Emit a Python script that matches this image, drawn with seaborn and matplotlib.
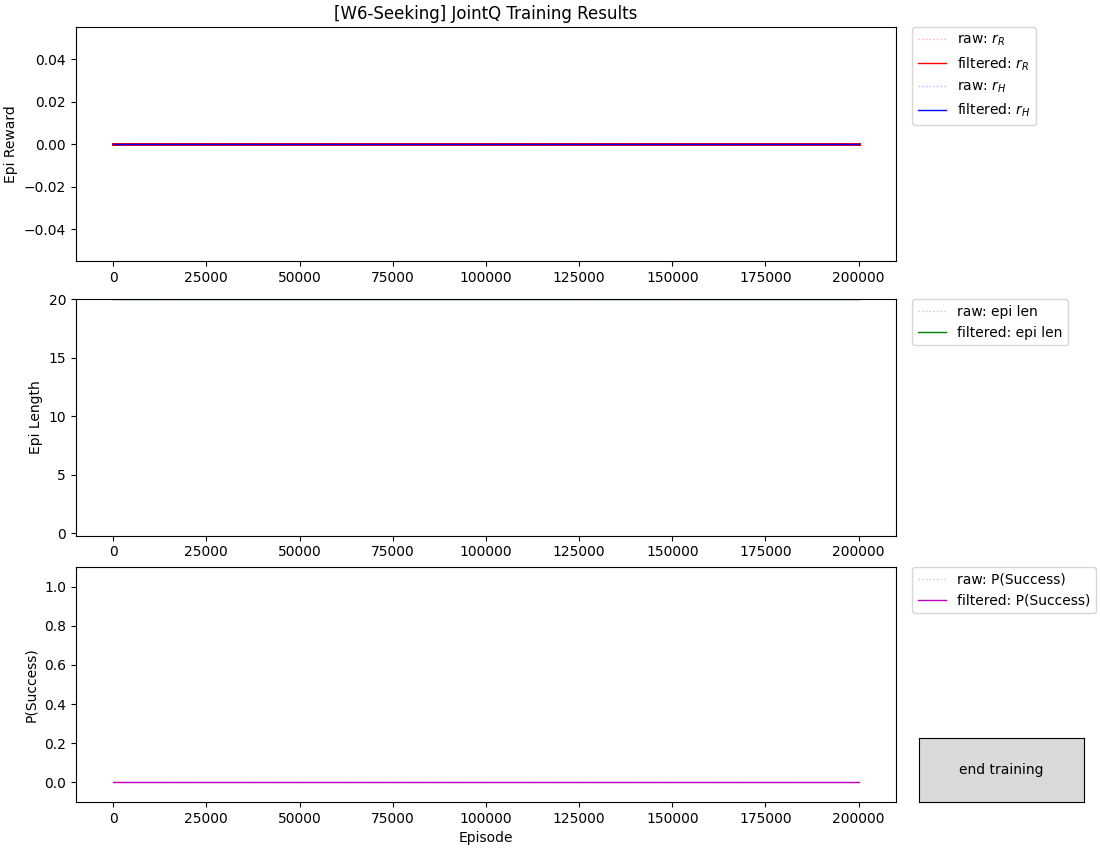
import matplotlib
matplotlib.use("Agg")
import matplotlib.pyplot as plt
from matplotlib.widgets import Button
import pandas as pd
import seaborn as sns

episodes = [0, 25000, 50000, 75000, 100000, 125000, 150000, 175000, 200000]
r_robot = [0.0, 0.0, 0.0, 0.0, 0.0, 0.0, 0.0, 0.0, 0.0]
r_human = [0.0, 0.0, 0.0, 0.0, 0.0, 0.0, 0.0, 0.0, 0.0]
epi_len = [20, 20, 20, 20, 20, 20, 20, 20, 20]
p_success = [0.0, 0.0, 0.0, 0.0, 0.0, 0.0, 0.0, 0.0, 0.0]

df = pd.DataFrame({
    "episode": episodes,
    "r_R": r_robot,
    "r_H": r_human,
    "epi_len": epi_len,
    "p_success": p_success,
})

fig = plt.figure(figsize=(11, 8.5), dpi=100)
ax_r = fig.add_axes([0.069, 0.6925, 0.7455, 0.2755])
ax_l = fig.add_axes([0.069, 0.370, 0.7455, 0.278])
ax_p = fig.add_axes([0.069, 0.0565, 0.7455, 0.2765])


def curve(col, ax, color, label, raw=False, aa=True):
    # raw signal is faint + dotted, filtered one solid
    if raw:
        sns.lineplot(data=df, x="episode", y=col, ax=ax, color=color, label=label,
                     linewidth=1, linestyle=":", alpha=0.3, errorbar=None, antialiased=aa)
    else:
        sns.lineplot(data=df, x="episode", y=col, ax=ax, color=color, label=label,
                     linewidth=1, errorbar=None, antialiased=aa)


# rewards (r_R sits right under r_H, keep its edges from tinting the blue)
curve("r_R", ax_r, "r", "raw: $r_R$", raw=True, aa=False)
curve("r_R", ax_r, "r", "filtered: $r_R$", aa=False)
curve("r_H", ax_r, "b", "raw: $r_H$", raw=True)
curve("r_H", ax_r, "b", "filtered: $r_H$")
ax_r.set_ylim(-0.055, 0.055)
ax_r.set_ylabel("Epi Reward")
ax_r.set_xlabel("")
ax_r.set_title("[W6-Seeking] JointQ Training Results")

# episode length
curve("epi_len", ax_l, "g", "raw: epi len", raw=True)
curve("epi_len", ax_l, "g", "filtered: epi len")
ax_l.set_ylim(-0.2, 20)
ax_l.set_ylabel("Epi Length")
ax_l.set_xlabel("")

# success probability
curve("p_success", ax_p, "m", "raw: P(Success)", raw=True)
curve("p_success", ax_p, "m", "filtered: P(Success)")
ax_p.set_ylim(-0.1, 1.1)
ax_p.set_ylabel("P(Success)")
ax_p.set_xlabel("Episode")

for ax in (ax_r, ax_l, ax_p):
    ax.set_xlim(-10000, 210000)
    ax.set_xticks([0, 25000, 50000, 75000, 100000, 125000, 150000, 175000, 200000])
    ax.ticklabel_format(axis="x", style="plain")
    ax.legend(loc="upper left", bbox_to_anchor=(1.02, 1), borderaxespad=0)

# the stop button from the live training window
ax_btn = fig.add_axes([0.8355, 0.0565, 0.15, 0.075])
btn = Button(ax_btn, "end training")

fig.savefig("out.png", dpi=100)
